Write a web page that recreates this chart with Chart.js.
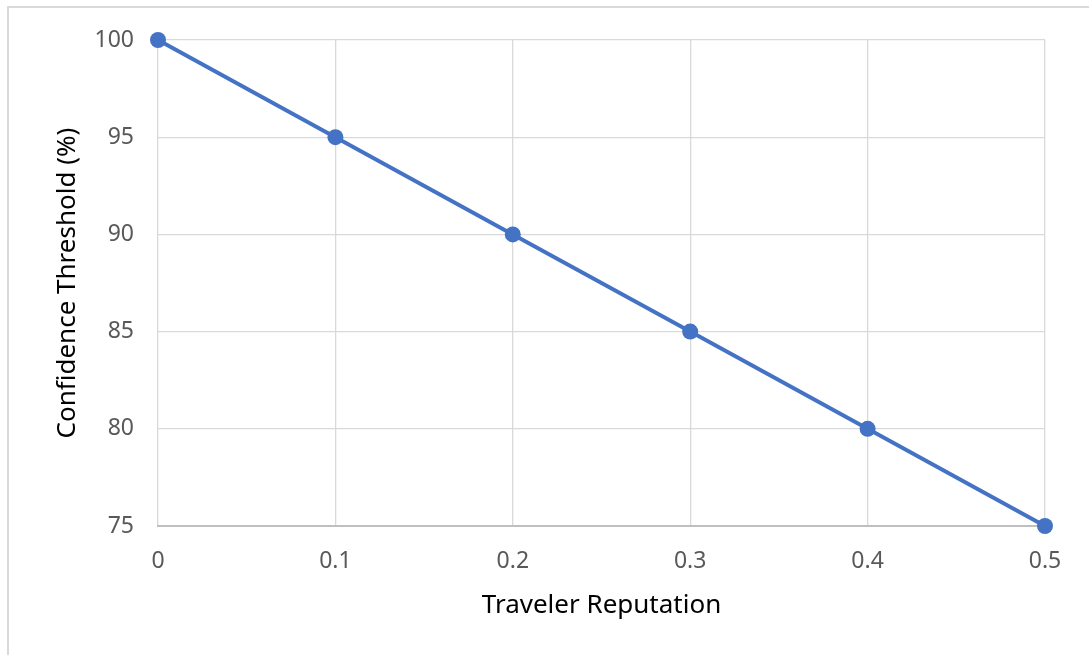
<!DOCTYPE html>
<html>
<head>
<meta charset="utf-8">
<script src="https://cdn.jsdelivr.net/npm/chart.js@4"></script>
<style>
  html, body { margin: 0; padding: 0; background: #fff; overflow: hidden; }
  #wrap { position: relative; width: 1089px; height: 655px; }
  #frame { position: absolute; left: 7px; top: 6px; width: 1200px; height: 800px;
           border: 2px solid #d9d9d9; box-sizing: border-box; }
  canvas { position: absolute; left: 0; top: 0; }
</style>
</head>
<body>
<div id="wrap">
  <div id="frame"></div>
  <canvas id="chart" width="1089" height="655"></canvas>
</div>
<script>
// Data
const reputation = [0, 0.1, 0.2, 0.3, 0.4, 0.5];
const threshold = [100, 95, 90, 85, 80, 75];

const xTitle = "Traveler Reputation";
const yTitle = "Confidence Threshold (%)";

const blue = "#4472c4";
const tickFont = { family: "'Noto Sans', sans-serif", size: 23 };
const titleFont = { family: "'Noto Sans', sans-serif", size: 26 };

const points = reputation.map((x, i) => ({ x: x, y: threshold[i] }));

const ctx = document.getElementById("chart").getContext("2d");

new Chart(ctx, {
    type: 'line',
    data: {
        datasets: [{
            data: points,
            borderColor: blue,
            backgroundColor: blue,
            borderWidth: 4,
            pointRadius: 8,
            pointHoverRadius: 8,
            pointBorderWidth: 0,
            tension: 0,
            clip: false
        }]
    },
    options: {
        responsive: false,
        animation: false,
        layout: { padding: { left: 0, top: 40, right: 44, bottom: 0 } },
        plugins: { legend: { display: false }, tooltip: { enabled: false } },
        scales: {
            x: {
                type: 'linear',
                min: 0,
                max: 0.5,
                ticks: {
                    stepSize: 0.1,
                    padding: 22,
                    color: "#595959",
                    font: tickFont,
                    callback: v => Math.round(v * 10) / 10
                },
                grid: { color: "#d9d9d9", lineWidth: 1.3, drawTicks: false },
                border: { color: "#bfbfbf", width: 2 },
                title: {
                    display: true,
                    text: xTitle,
                    color: "#000",
                    font: titleFont,
                    padding: { top: 0, bottom: 34 }
                },
                afterFit: s => { s.height = 129; }
            },
            y: {
                min: 75,
                max: 100,
                ticks: {
                    stepSize: 5,
                    padding: 24,
                    color: "#595959",
                    font: tickFont
                },
                grid: { color: "#d9d9d9", lineWidth: 1.3, drawTicks: false },
                border: { display: false },
                title: {
                    display: true,
                    text: yTitle,
                    color: "#000",
                    font: titleFont,
                    padding: { top: 52, bottom: 0 }
                },
                afterFit: s => { s.width = 158; }
            }
        }
    }
});
</script>
</body>
</html>
